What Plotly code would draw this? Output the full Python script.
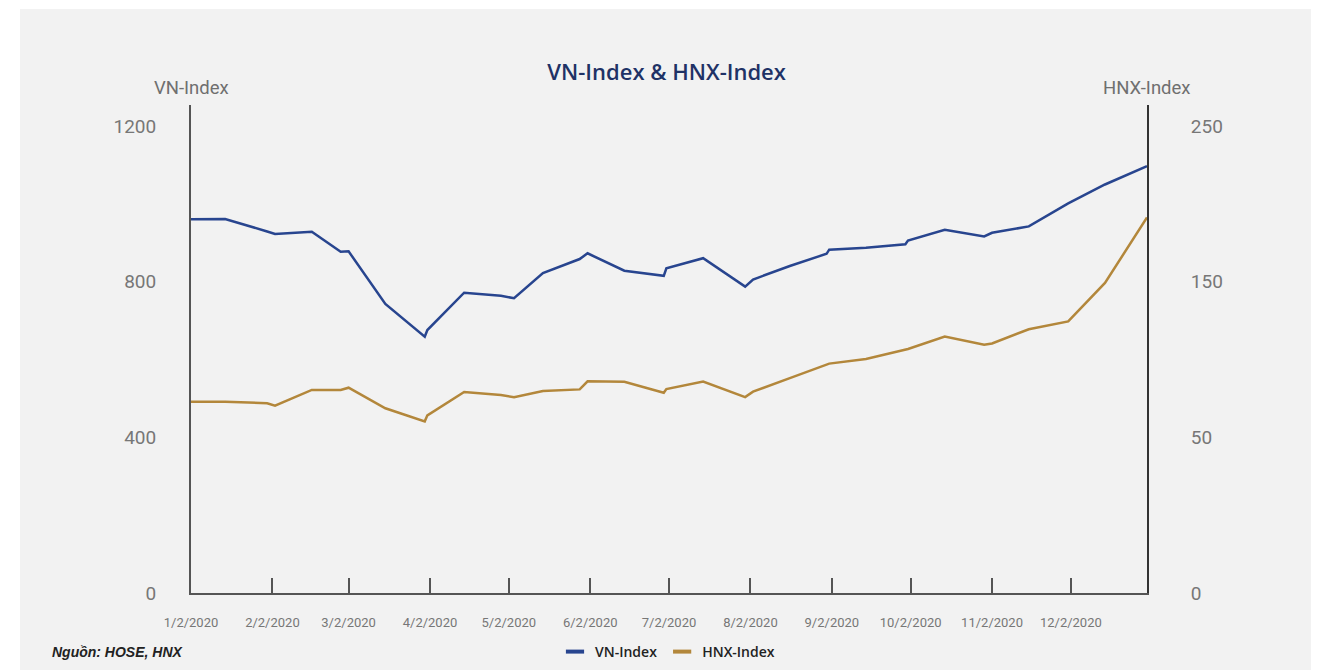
import plotly.graph_objects as go

# ---- data ----
dates = [
    "2020-01-02", "2020-01-15", "2020-01-31", "2020-02-03", "2020-02-17", "2020-02-28",
    "2020-03-02", "2020-03-16", "2020-03-31", "2020-04-01", "2020-04-15", "2020-04-29",
    "2020-05-04", "2020-05-15", "2020-05-29", "2020-06-01", "2020-06-15", "2020-06-30",
    "2020-07-01", "2020-07-15", "2020-07-31", "2020-08-03", "2020-08-17", "2020-08-31",
    "2020-09-01", "2020-09-15", "2020-09-30", "2020-10-01", "2020-10-15", "2020-10-30",
    "2020-11-02", "2020-11-16", "2020-12-01", "2020-12-15", "2020-12-31",
]
vn_index = [
    960.3, 961.0, 929.0, 922.5, 928.4, 877.0,
    878.0, 742.6, 658.6, 675.8, 771.6, 763.9,
    757.3, 822.3, 858.2, 872.9, 828.2, 815.1,
    834.3, 860.3, 787.3, 805.6, 840.3, 871.6,
    882.2, 887.3, 896.0, 905.5, 933.3, 916.1,
    925.6, 942.0, 1001.1, 1049.7, 1096.7,
]
hnx_index = [
    102.4, 102.4, 101.6, 100.3, 108.7, 108.7,
    109.9, 98.9, 91.9, 95.1, 107.6, 106.0,
    104.8, 108.1, 109.0, 113.3, 113.1, 107.2,
    109.2, 113.2, 104.9, 107.8, 115.0, 122.3,
    122.8, 125.3, 130.4, 130.6, 137.3, 132.9,
    133.6, 141.2, 145.4, 166.0, 201.0,
]

x_tick_vals = ["2020-%02d-02" % m for m in range(1, 13)]
x_tick_text = ["%d/2/2020" % m for m in range(1, 13)]
left_tick_vals = [0, 400, 800, 1200]
left_tick_text = ["0", "400", "800", "1200"]
right_tick_vals = [0, 250 / 3, 500 / 3, 250]
right_tick_text = ["0", "50", "150", "250"]

VN_COLOR = "#28458f"
HNX_COLOR = "#b3873b"
AXIS_COLOR = "#555555"
TICK_FONT_COLOR = "#777777"

fig = go.Figure()

fig.add_trace(go.Scatter(
    x=dates, y=vn_index, name="VN-Index", mode="lines",
    line=dict(color=VN_COLOR, width=2.5), showlegend=False, yaxis="y",
))
fig.add_trace(go.Scatter(
    x=dates, y=hnx_index, name="HNX-Index", mode="lines",
    line=dict(color=HNX_COLOR, width=2.5), showlegend=False, yaxis="y2",
))
# legend entries with short dash symbols
fig.add_trace(go.Scatter(
    x=[None], y=[None], name="VN-Index", mode="markers",
    marker=dict(symbol="line-ew", size=13, line=dict(color=VN_COLOR, width=4)),
    showlegend=True,
))
fig.add_trace(go.Scatter(
    x=[None], y=[None], name="HNX-Index", mode="markers",
    marker=dict(symbol="line-ew", size=13, line=dict(color=HNX_COLOR, width=4)),
    showlegend=True, yaxis="y2",
))

fig.update_layout(
    width=1318, height=670, autosize=False,
    margin=dict(l=191, r=171, t=105, b=77),
    paper_bgcolor="white",
    plot_bgcolor="rgba(0,0,0,0)",
    font=dict(family="Roboto, Arial, sans-serif", color=TICK_FONT_COLOR),
    title=dict(
        text="VN-Index & HNX-Index",
        font=dict(size=22, color="#1f3266", family="Open Sans, Roboto, sans-serif", weight=600),
        x=0.4975, xref="paper", xanchor="center",
        y=1 - 72 / 670, yref="container", yanchor="middle",
    ),
    xaxis=dict(
        type="date",
        range=["2020-01-02", "2020-12-31"],
        tickmode="array", tickvals=x_tick_vals, ticktext=x_tick_text,
        ticks="inside", ticklen=15, tickwidth=1.5, tickcolor=AXIS_COLOR,
        showline=True, linecolor=AXIS_COLOR, linewidth=2,
        showgrid=False, zeroline=False, automargin=False,
        tickfont=dict(size=13, color=TICK_FONT_COLOR),
        ticklabelstandoff=16,
    ),
    yaxis=dict(
        range=[0, 1200 * 488 / 467],
        tickmode="array", tickvals=left_tick_vals, ticktext=left_tick_text,
        showline=True, linecolor=AXIS_COLOR, linewidth=2,
        showgrid=False, zeroline=False, ticks="", automargin=False,
        tickfont=dict(size=19, color=TICK_FONT_COLOR),
        ticklabelstandoff=29,
    ),
    yaxis2=dict(
        range=[0, 250 * 488 / 467],
        overlaying="y", side="right",
        tickmode="array", tickvals=right_tick_vals, ticktext=right_tick_text,
        showline=True, linecolor="#333333", linewidth=2,
        showgrid=False, zeroline=False, ticks="", automargin=False,
        tickfont=dict(size=19, color=TICK_FONT_COLOR),
        ticklabelstandoff=38,
    ),
    legend=dict(
        orientation="h",
        x=(555 - 191) / 956, xanchor="left",
        yref="container", y=1 - 652 / 670, yanchor="middle",
        font=dict(size=14, color="#222222", family="Open Sans, Roboto, sans-serif", weight=600),
        bgcolor="rgba(0,0,0,0)",
        itemwidth=30,
        traceorder="normal",
    ),
    shapes=[
        dict(
            type="rect", xref="paper", yref="paper",
            x0=(20 - 191) / 956, x1=(1311 - 191) / 956,
            y0=(593 - 680) / 488, y1=(593 - 9) / 488,
            fillcolor="#f2f2f2", line=dict(width=0), layer="below",
        )
    ],
    annotations=[
        dict(
            text="VN-Index", xref="paper", yref="paper", x=0, y=1,
            xanchor="center", yanchor="bottom", yshift=4, showarrow=False,
            font=dict(size=18.5, color="#6f6f6f"),
        ),
        dict(
            text="HNX-Index", xref="paper", yref="paper", x=1, y=1,
            xanchor="center", yanchor="bottom", yshift=4, showarrow=False,
            font=dict(size=18.5, color="#6f6f6f"),
        ),
        dict(
            text="<b><i>Nguồn: HOSE, HNX</i></b>", xref="paper", yref="paper",
            x=(50 - 191) / 956, y=(593 - 652) / 488,
            xanchor="left", yanchor="middle", showarrow=False,
            font=dict(size=14, color="#222222", family="Liberation Sans, Arial, sans-serif"),
        ),
    ],
)

fig.write_html(
    "out.html",
    config={"displayModeBar": False},
    post_script="document.body.style.margin='0';document.body.style.overflow='hidden';",
)
